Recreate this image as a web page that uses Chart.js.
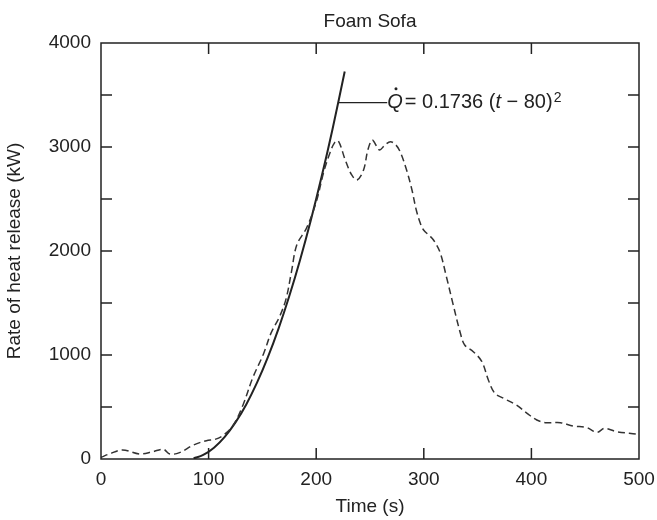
<!DOCTYPE html>
<html>
<head>
<meta charset="utf-8">
<script src="https://cdn.jsdelivr.net/npm/chart.js@4.4.1/dist/chart.umd.min.js"></script>
<style>
  body { margin: 0; background: #fff; }
</style>
</head>
<body>
<canvas id="hrr" width="657" height="520"></canvas>
<script>
// measured curve (dashed), time in s and heat release in kW
var timeValues = [0, 8, 20, 36, 48, 58, 64, 73, 86, 98, 106, 114, 123, 132, 141, 151, 158, 166, 172, 177, 182, 191, 200, 207, 213, 217, 220.5, 227, 233, 238, 244, 248, 252, 256, 259, 264, 269, 274, 278, 284, 289, 293, 297, 300, 305, 309, 315, 321, 327, 334, 338, 346, 354, 360, 366, 374, 386, 396, 405, 414, 427, 439, 451, 461, 468, 479, 497];
var heatValues = [16, 50, 87, 48, 70, 93, 48, 61, 135, 176, 189, 231, 327, 520, 780, 1010, 1210, 1370, 1540, 1800, 2060, 2220, 2470, 2760, 2950, 3040, 3060, 2875, 2731, 2683, 2779, 2971, 3067, 3010, 2971, 3020, 3051, 3020, 2955, 2779, 2587, 2394, 2260, 2200, 2150, 2106, 1990, 1753, 1497, 1209, 1096, 1032, 936, 760, 632, 584, 519, 439, 375, 349, 349, 317, 304, 256, 295, 263, 240];

// t-squared fit (solid)
var fitTime = [86, 95, 105, 115, 125, 135, 145, 155, 165, 175, 185, 195, 205, 215, 226.5];
var fitHeat = [6, 39, 109, 213, 352, 525, 734, 977, 1254, 1567, 1914, 2296, 2713, 3164, 3726];

// leader line for the label
var labelTime = [221, 266];
var labelHeat = [3426, 3426];

var xTicks = [0, 100, 200, 300, 400, 500];
var yTicks = [0, 500, 1000, 1500, 2000, 2500, 3000, 3500, 4000];

function pts(xs, ys) {
  return xs.map(function (x, i) { return { x: x, y: ys[i] }; });
}

var ink = "#222";
var fontFam = "'Liberation Sans', Arial, Helvetica, sans-serif";

var frame = {
  id: "frame",
  afterDraw: function (chart) {
    var ctx = chart.ctx, a = chart.chartArea;
    var xs = chart.scales.x, ys = chart.scales.y;
    ctx.save();
    ctx.strokeStyle = ink;
    ctx.lineWidth = 1.5;
    ctx.strokeRect(a.left, a.top, a.right - a.left, a.bottom - a.top);
    ctx.beginPath();
    xTicks.forEach(function (v) {
      if (v <= xs.min || v >= xs.max) return;
      var px = xs.getPixelForValue(v);
      ctx.moveTo(px, a.bottom); ctx.lineTo(px, a.bottom - 11);
      ctx.moveTo(px, a.top); ctx.lineTo(px, a.top + 11);
    });
    yTicks.forEach(function (v) {
      if (v <= ys.min || v >= ys.max) return;
      var py = ys.getPixelForValue(v);
      ctx.moveTo(a.left, py); ctx.lineTo(a.left + 11, py);
      ctx.moveTo(a.right, py); ctx.lineTo(a.right - 11, py);
    });
    ctx.stroke();

    ctx.fillStyle = ink;
    ctx.textBaseline = "middle";

    // title, centred on the plot
    ctx.textAlign = "center";
    ctx.font = "19px " + fontFam;
    ctx.fillText("Foam Sofa", (a.left + a.right) / 2, 22);

    // equation label
    var x = xs.getPixelForValue(labelTime[1]);
    var y = ys.getPixelForValue(labelHeat[1]);
    ctx.textAlign = "left";
    ctx.font = "italic 20px " + fontFam;
    ctx.fillText("Q", x, y);
    var qw = ctx.measureText("Q").width;
    ctx.beginPath();
    ctx.arc(x + qw / 2 + 1, y - 14, 1.5, 0, Math.PI * 2);
    ctx.fill();
    x += qw + 2;
    ctx.font = "20px " + fontFam;
    var s1 = "= 0.1736 (";
    ctx.fillText(s1, x, y);
    x += ctx.measureText(s1).width;
    ctx.font = "italic 20px " + fontFam;
    ctx.fillText("t", x, y);
    x += ctx.measureText("t").width;
    ctx.font = "20px " + fontFam;
    var s2 = " \u2212 80)";
    ctx.fillText(s2, x, y);
    x += ctx.measureText(s2).width;
    ctx.font = "14px " + fontFam;
    ctx.fillText("2", x + 1, y - 5);
    ctx.restore();
  }
};

new Chart("hrr", {
  type: "scatter",
  data: {
    datasets: [{
      data: pts(timeValues, heatValues),
      showLine: true,
      borderColor: "#333",
      borderWidth: 1.5,
      borderDash: [7, 4],
      tension: 0.35,
      pointRadius: 0
    }, {
      data: pts(fitTime, fitHeat),
      showLine: true,
      borderColor: ink,
      borderWidth: 2,
      tension: 0.4,
      pointRadius: 0
    }, {
      data: pts(labelTime, labelHeat),
      showLine: true,
      borderColor: ink,
      borderWidth: 1.3,
      pointRadius: 0
    }]
  },
  options: {
    responsive: false,
    animation: false,
    layout: { padding: { left: 0, right: 18, top: 43, bottom: 0 } },
    plugins: {
      legend: { display: false },
      tooltip: { enabled: false },
      title: { display: false }
    },
    scales: {
      x: {
        type: "linear",
        min: 0, max: 500,
        afterFit: function (s) { s.height = 61; s.paddingLeft = 0; s.paddingRight = 0; },
        afterBuildTicks: function (s) { s.ticks = xTicks.map(function (v) { return { value: v }; }); },
        grid: { display: false, drawTicks: false },
        border: { display: false },
        ticks: { color: ink, padding: 9, maxRotation: 0, font: { family: fontFam, size: 19 } },
        title: {
          display: true, text: "Time (s)", color: ink,
          font: { family: fontFam, size: 19 }, padding: { top: 0, bottom: 2 }
        }
      },
      y: {
        min: 0, max: 4000,
        afterFit: function (s) { s.width = 101; s.paddingTop = 0; s.paddingBottom = 0; },
        afterBuildTicks: function (s) { s.ticks = yTicks.filter(function (v) { return v % 1000 === 0; }).map(function (v) { return { value: v }; }); },
        grid: { display: false, drawTicks: false },
        border: { display: false },
        ticks: {
          color: ink, padding: 10, font: { family: fontFam, size: 19 },
          callback: function (v) { return String(v); }
        },
        title: {
          display: true, text: "Rate of heat release (kW)", color: ink,
          font: { family: fontFam, size: 19 }, padding: { top: 3, bottom: 0 }
        }
      }
    }
  },
  plugins: [frame]
});
</script>
</body>
</html>
